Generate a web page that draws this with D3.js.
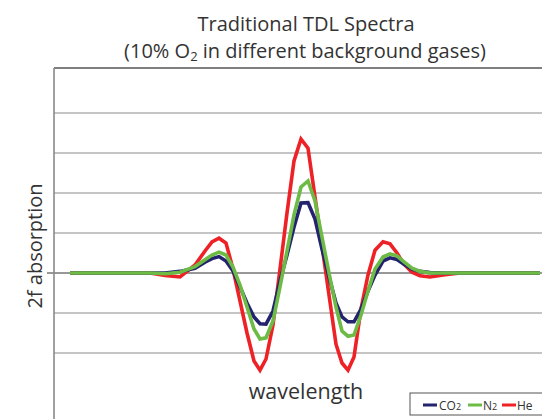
<!DOCTYPE html>
<html>
<head>
<meta charset="utf-8">
<script src="https://cdn.jsdelivr.net/npm/d3@7"></script>
<style>
  html, body { margin: 0; padding: 0; background: #fff; }
  svg { display: block; font-family: "Open Sans", "Noto Sans", sans-serif; }
</style>
</head>
<body>
<svg id="chart" width="542" height="419"></svg>
<script>
// ---- data ----
const wavelength = [0,80,95,110,125,135,142,149,156,163,170,177,184,190,196,203,210,217,224,231,238,245,252,259,266,272,278,284,291,298,305,313,320,327,334,342,350,360,375,390,470];
const co2 = [0,0,0,0.04,0.12,0.27,0.36,0.41,0.3,0.05,-0.35,-0.75,-1.1,-1.27,-1.28,-0.95,-0.2,0.45,1.15,1.75,1.76,1.35,0.6,-0.1,-0.75,-1.1,-1.22,-1.22,-0.9,-0.45,-0.05,0.3,0.38,0.34,0.22,0.1,0.04,0.01,0,0,0];
const n2  = [0,0,-0.02,0.02,0.16,0.33,0.45,0.52,0.45,0.15,-0.3,-0.85,-1.4,-1.65,-1.62,-1.2,-0.35,0.55,1.45,2.15,2.3,1.8,0.9,0.0,-0.85,-1.45,-1.58,-1.55,-1.05,-0.45,0.1,0.4,0.48,0.43,0.28,0.12,0.04,0,0,0,0];
const he  = [0,0,-0.06,-0.1,0.2,0.55,0.78,0.87,0.75,0.1,-0.7,-1.5,-2.2,-2.43,-2.15,-1.3,0.1,1.5,2.8,3.35,3.12,1.9,0.68,-0.55,-1.78,-2.25,-2.43,-2.1,-0.9,-0.05,0.57,0.78,0.73,0.5,0.22,0.02,-0.07,-0.1,-0.04,0,0];
const seriesNames = ["CO2", "N2", "He"];
const yGridTicks = [-2, -1, 1, 2, 3, 4];

const colors = { CO2: "#23236f", N2: "#6cbb45", He: "#ee2226" };
const seriesData = { CO2: co2, N2: n2, He: he };

// ---- layout ----
const svg = d3.select("#chart");
const plotL = 54, plotR = 542, plotT = 68, plotB = 433;

const x = d3.scaleLinear().domain([-16, 472]).range([plotL, plotR]);
const y = d3.scaleLinear().domain([-4, 5.125]).range([plotB, plotT]);

// gridlines
svg.append("g").selectAll("line").data(yGridTicks).join("line")
  .attr("x1", plotL).attr("x2", plotR)
  .attr("y1", d => y(d)).attr("y2", d => y(d))
  .attr("stroke", "#8a8a8a").attr("stroke-width", 1.2);

// top border
svg.append("line").attr("x1", plotL).attr("x2", plotR)
  .attr("y1", plotT).attr("y2", plotT)
  .attr("stroke", "#555").attr("stroke-width", 1.3);

// zero axis with tick
svg.append("line").attr("x1", plotL - 7).attr("x2", plotR)
  .attr("y1", y(0)).attr("y2", y(0))
  .attr("stroke", "#333").attr("stroke-width", 1.2);

// left axis
svg.append("line").attr("x1", plotL).attr("x2", plotL)
  .attr("y1", plotT).attr("y2", 419)
  .attr("stroke", "#8a8a8a").attr("stroke-width", 1.6);

// series lines
const line = d3.line().x((d, i) => x(wavelength[i])).y(d => y(d));
["He", "CO2", "N2"].forEach(name => {
  svg.append("path").datum(seriesData[name])
    .attr("d", line)
    .attr("fill", "none")
    .attr("stroke", colors[name])
    .attr("stroke-width", 3.6)
    .attr("stroke-linejoin", "miter");
});

// title
const title1 = svg.append("text").attr("text-anchor", "middle")
  .attr("fill", "#333").attr("font-size", 20)
  .attr("x", 306).attr("y", 30.5).text("Traditional TDL Spectra");
const title2 = svg.append("text").attr("text-anchor", "middle")
  .attr("fill", "#333").attr("font-size", 20)
  .attr("x", 305).attr("y", 58);
title2.append("tspan").text("(10% O");
title2.append("tspan").attr("font-size", 13).attr("dy", 3).text("2");
title2.append("tspan").attr("dy", -3).text(" in different background gases)");

// y label
svg.append("text")
  .attr("transform", `translate(42,246) rotate(-90)`)
  .attr("text-anchor", "middle")
  .attr("fill", "#333").attr("font-size", 20)
  .text("2f absorption");

// x label
svg.append("text").attr("x", 306).attr("y", 399)
  .attr("text-anchor", "middle").attr("fill", "#333").attr("font-size", 21.5)
  .text("wavelength");

// legend
const lg = svg.append("g");
lg.append("rect").attr("x", 410).attr("y", 393).attr("width", 140).attr("height", 22)
  .attr("fill", "#fff").attr("stroke", "#555").attr("stroke-width", 1);
const legendItems = [
  { name: "CO2", base: "CO", sub: "2", lx: 423, tx: 439 },
  { name: "N2", base: "N", sub: "2", lx: 468, tx: 483 },
  { name: "He", base: "He", sub: "", lx: 502, tx: 517 }
];
legendItems.forEach(it => {
  lg.append("line").attr("x1", it.lx).attr("x2", it.lx + 14)
    .attr("y1", 405).attr("y2", 405)
    .attr("stroke", colors[it.name]).attr("stroke-width", 3);
  const t = lg.append("text").attr("x", it.tx).attr("y", 409.5)
    .attr("fill", "#333").attr("font-size", 12);
  t.append("tspan").text(it.base);
  if (it.sub) t.append("tspan").attr("font-size", 9).attr("dy", 0.5).text(it.sub);
});
</script>
</body>
</html>
